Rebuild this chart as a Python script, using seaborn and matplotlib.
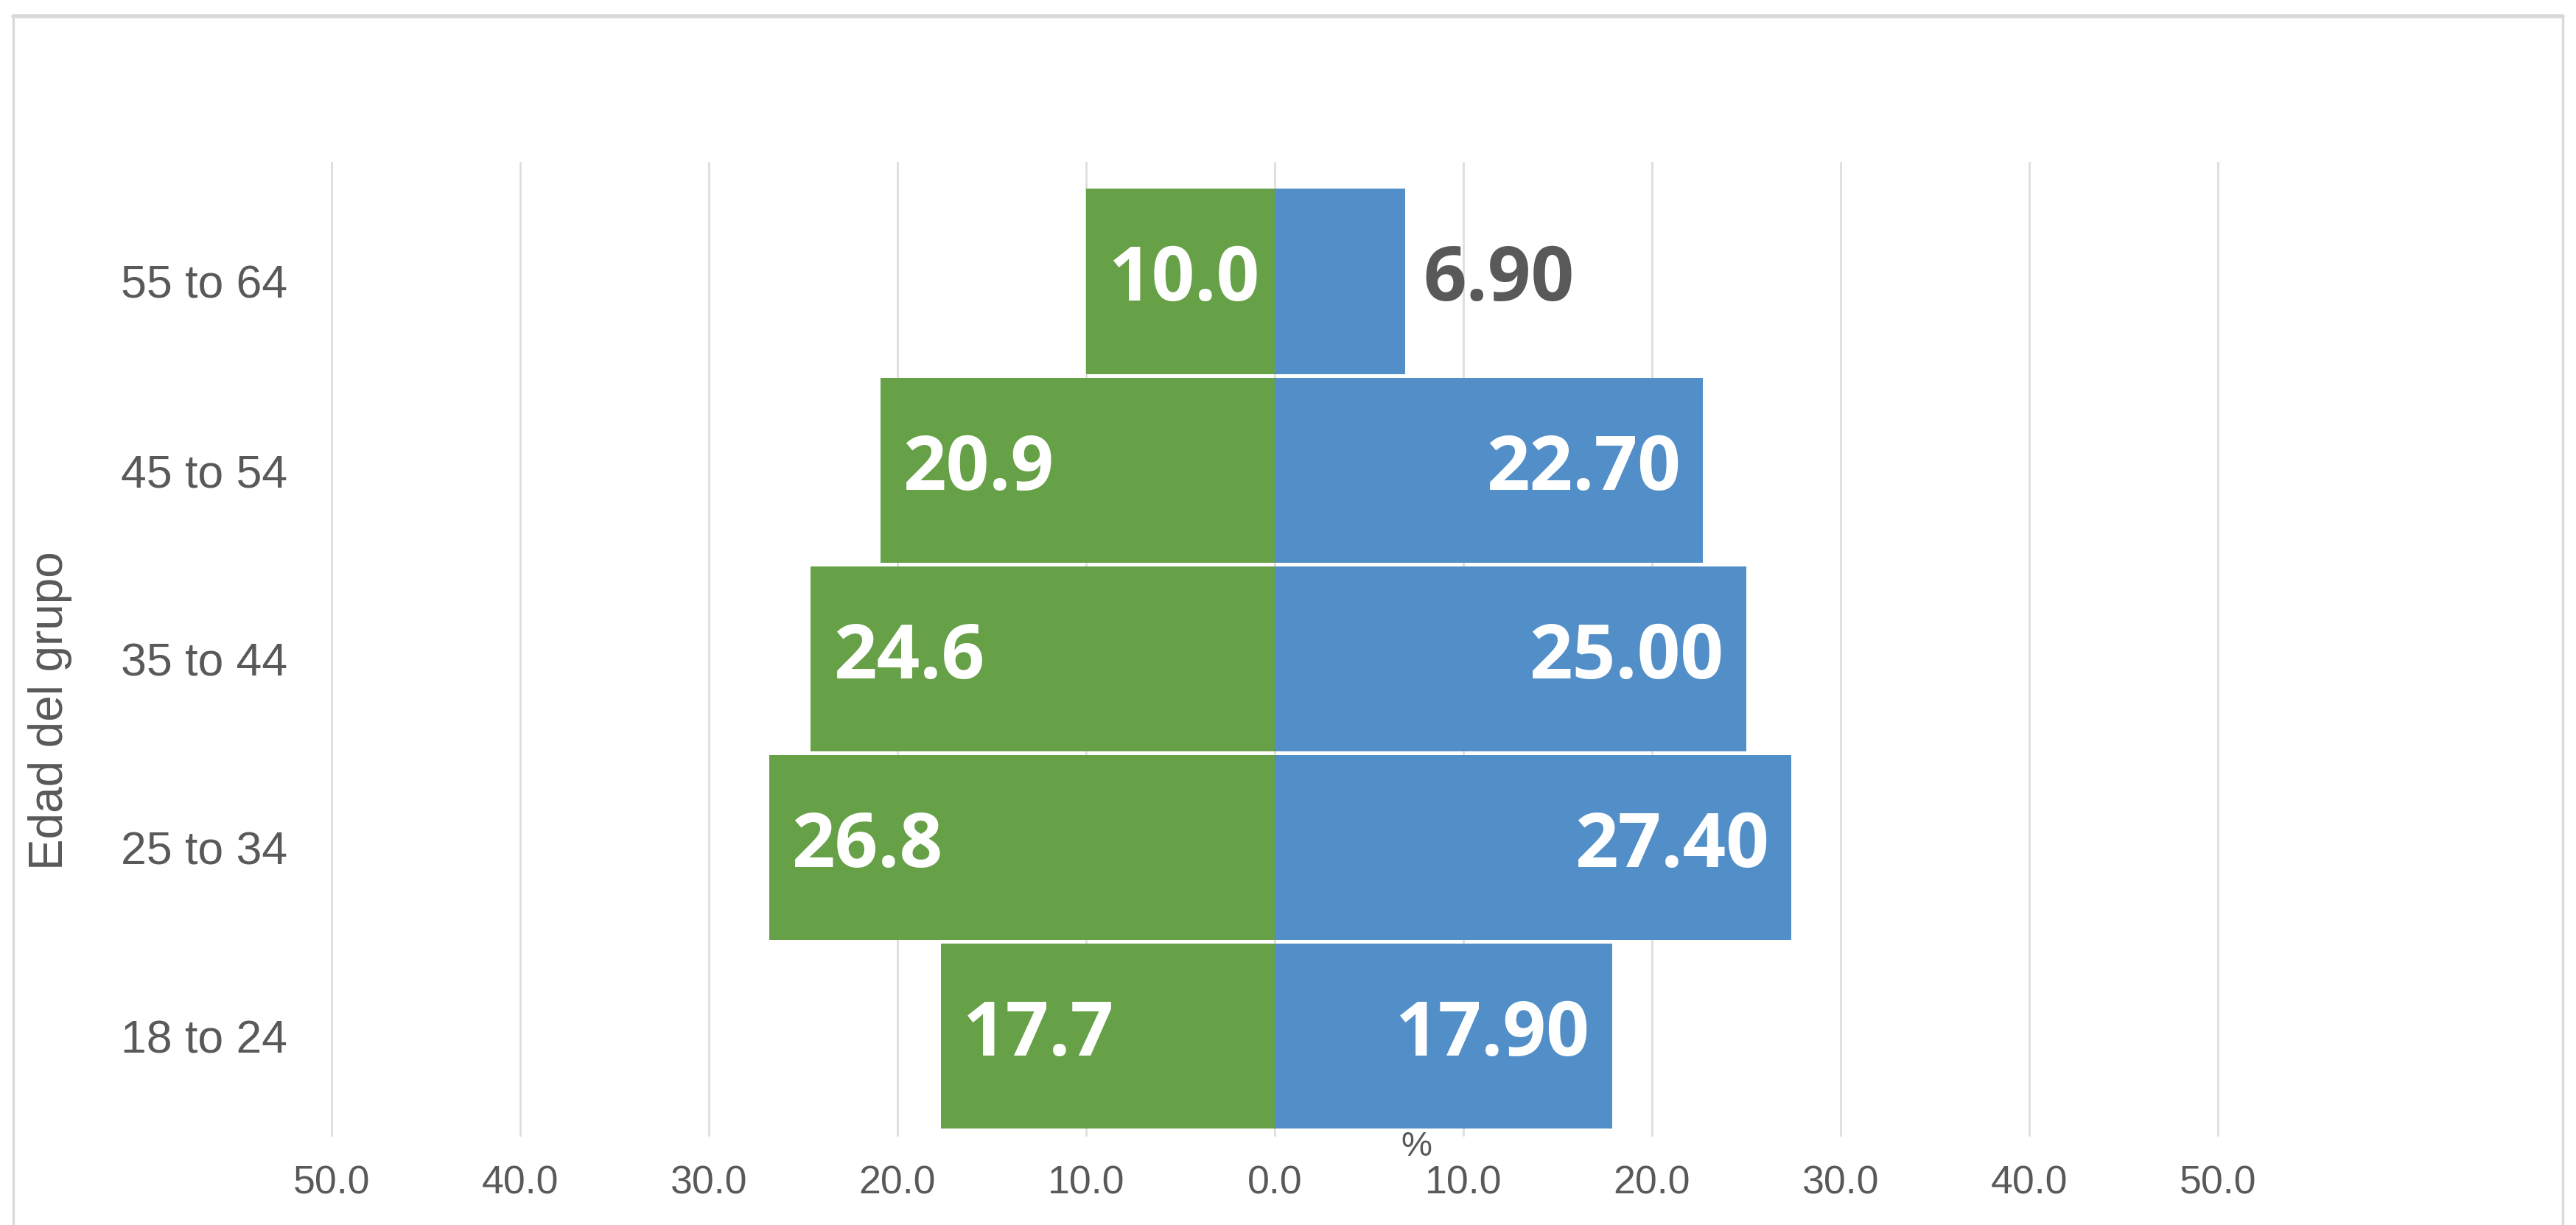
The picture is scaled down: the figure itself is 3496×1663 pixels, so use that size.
import matplotlib
matplotlib.use("Agg")
import matplotlib.pyplot as plt
import seaborn as sns
import pandas as pd
from matplotlib.lines import Line2D

# ---- data ----
groups = ["55 to 64", "45 to 54", "35 to 44", "25 to 34", "18 to 24"]
green_values = [10.0, 20.9, 24.6, 26.8, 17.7]
blue_values = [6.90, 22.70, 25.00, 27.40, 17.90]
x_ticks = [-50, -40, -30, -20, -10, 0, 10, 20, 30, 40, 50]
x_tick_labels = ["50.0", "40.0", "30.0", "20.0", "10.0", "0.0", "10.0", "20.0", "30.0", "40.0", "50.0"]
y_title = "Edad del grupo"
x_title = "%"

GREEN = "#66A047"
BLUE = "#528FC8"
GRAY_TXT = "#595959"

df = pd.DataFrame({
    "group": groups * 2,
    "side": ["green"] * len(groups) + ["blue"] * len(groups),
    "value": [-v for v in green_values] + blue_values,
})

sns.set_theme(style="white")
plt.rcParams["font.family"] = ["Liberation Sans", "DejaVu Sans"]

W, H = 3496, 1663
fig = plt.figure(figsize=(W / 200, H / 200), dpi=200)
fig.patch.set_facecolor("white")

# axes placement (pixel-derived)
zero_px, ppu = 1730, 25.6
xl, xr = -52, 52
ax_left = zero_px + xl * ppu
ax_right = zero_px + xr * ppu
ax_top, ax_bot = 220, 1543
ax = fig.add_axes([ax_left / W, 1 - ax_bot / H, (ax_right - ax_left) / W, (ax_bot - ax_top) / H])

sns.barplot(data=df, x="value", y="group", hue="side", order=groups,
            palette={"green": GREEN, "blue": BLUE}, dodge=False, width=0.98,
            orient="h", ax=ax, legend=False, saturation=1, linewidth=0)

ax.set_xlim(xl, xr)
ax.set_ylim(4 + 0.531, -0.632)
ax.set_xticks(x_ticks)
ax.set_xticklabels(x_tick_labels)
ax.xaxis.grid(True, color="#DEDEDE", linewidth=1.0)
ax.yaxis.grid(False)
ax.set_axisbelow(True)
for s in ax.spines.values():
    s.set_visible(False)
ax.tick_params(axis="x", length=0, pad=14, labelsize=19.3, labelcolor=GRAY_TXT)
ax.tick_params(axis="y", length=0, pad=3, labelsize=22.5, labelcolor=GRAY_TXT)
ax.set_xlabel("")
ax.set_ylabel("")

lab_font = dict(family=["Open Sans", "DejaVu Sans"], weight="bold", fontsize=37)
for i, (g, b) in enumerate(zip(green_values, blue_values)):
    ax.annotate(f"{g:.1f}", xy=(-g, i), xytext=(11, 0), textcoords="offset points",
                ha="left", va="center", color="white", **lab_font)
    if b < 10:
        ax.annotate(f"{b:.2f}", xy=(b, i), xytext=(9, 0), textcoords="offset points",
                    ha="left", va="center", color=GRAY_TXT, **lab_font)
    else:
        ax.annotate(f"{b:.2f}", xy=(b, i), xytext=(-11, 0), textcoords="offset points",
                    ha="right", va="center", color="white", **lab_font)

fig.text(68 / W, 1 - 965 / H, y_title, rotation=90, ha="center", va="center",
         fontsize=23, color=GRAY_TXT)
fig.text(1922 / W, 1 - 1557 / H, x_title, ha="center", va="center",
         fontsize=17, color=GRAY_TXT)

# figure frame
fig.add_artist(Line2D([18 / W, 3478 / W], [1 - 22 / H, 1 - 22 / H], color="#D9D9D9",
                      linewidth=2.0, transform=fig.transFigure))
fig.add_artist(Line2D([18 / W, 18 / W], [0, 1 - 22 / H], color="#D9D9D9",
                      linewidth=1.2, transform=fig.transFigure))
fig.add_artist(Line2D([3478 / W, 3478 / W], [0, 1 - 22 / H], color="#D9D9D9",
                      linewidth=1.2, transform=fig.transFigure))

fig.savefig("out.png", dpi=200, facecolor="white")
